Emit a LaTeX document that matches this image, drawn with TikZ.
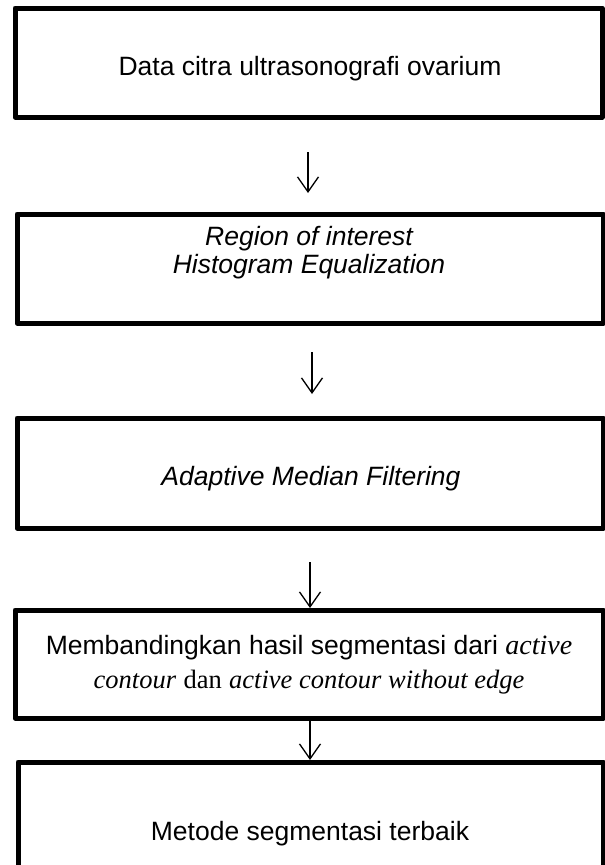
\documentclass[tikz,border=0pt]{standalone}
\usepackage{fontspec}
\setmainfont{Liberation Sans}
\newfontfamily\tnr{Liberation Serif}
\usetikzlibrary{arrows.meta}
\begin{document}
\begin{tikzpicture}[x=1pt,y=-1pt,
  box/.style={draw=black,line width=5pt,line join=round},
  txt/.style={inner sep=0pt,font=\fontsize{26.5}{28}\selectfont,align=center},
  conn/.style={line width=1.3pt,-{Straight Barb[length=15pt,width=21pt,line width=1.3pt]}}]
\useasboundingbox (0,0) rectangle (605,865);
\clip (0,0) rectangle (605,865);
\draw[box] (15,8) rectangle (602,117);
\node[txt] (t1) at (310,69) {Data citra ultrasonografi ovarium};
\draw[box] (17,214) rectangle (603,323);
\node[txt] (t2) at (309,253) {\itshape Region of interest\\\itshape Histogram Equalization};
\draw[box] (17,418) rectangle (603,528);
\node[txt] (t3) at (311,479) {\itshape Adaptive Median Filtering};
\draw[box] (15,610) rectangle (603,718);
\node[txt,font=\fontsize{26.5}{34}\selectfont] (t4) at (309,665) {Membandingkan hasil segmentasi dari {\tnr\itshape\fontsize{28}{34}\selectfont active}\\{\tnr\itshape contour} {\tnr dan} {\tnr\itshape active contour without edge}};
\draw[box] (18,762) rectangle (603,900);
\node[txt] (t5) at (310,834) {Metode segmentasi terbaik};
\coordinate (a1s) at (308,152); \coordinate (a1e) at (308,193);
\coordinate (a2s) at (312,352); \coordinate (a2e) at (312,394);
\coordinate (a3s) at (310,562); \coordinate (a3e) at (310,608);
\coordinate (a4s) at (310,718); \coordinate (a4e) at (310,760);
\draw[conn] (a1s) -- (a1e);
\draw[conn] (a2s) -- (a2e);
\draw[conn] (a3s) -- (a3e);
\draw[conn] (a4s) -- (a4e);
\end{tikzpicture}
\end{document}
